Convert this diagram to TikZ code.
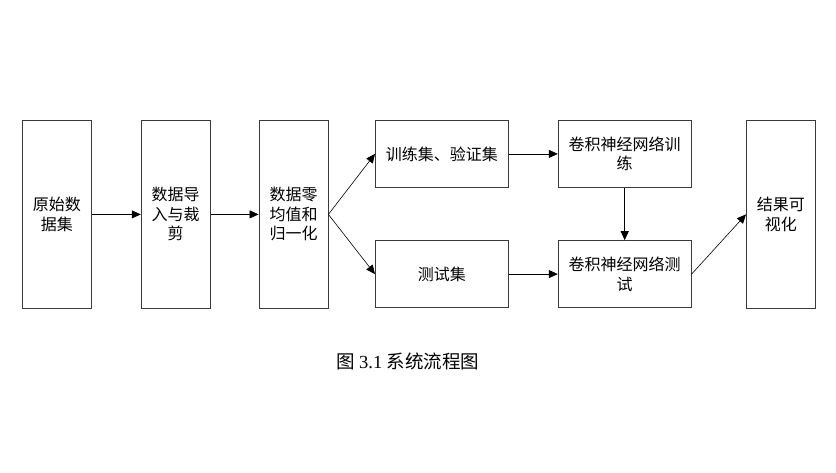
\documentclass[tikz,border=0pt]{standalone}
\usepackage{fontspec}
\setmainfont{Liberation Serif}
\newfontfamily\cjksans{Noto Sans CJK SC}
\newfontfamily\cjkcap{Noto Sans CJK SC}
\usetikzlibrary{arrows.meta, positioning}
\definecolor{flowline}{HTML}{3A3A3A}

\begin{document}
\begin{tikzpicture}[x=1pt, y=1pt,
    font=\cjksans\fontsize{16}{19.5}\selectfont,
    tallbox/.style={draw=flowline, thick, inner sep=0pt, minimum width=69pt, minimum height=188pt, align=center},
    widebox/.style={draw=flowline, thick, inner sep=0pt, minimum width=133pt, minimum height=67pt, align=center},
    flowarrow/.style={-{Triangle[length=9pt, width=8pt]}, black, semithick}]
      \useasboundingbox (0,0) rectangle (836,-472);
      % raw data
      \node[tallbox, anchor=north west] (raw) at (22,-120) {原始数\\据集};
      % import and crop
      \node[tallbox, right=49pt of raw] (crop) {数据导\\入与裁\\剪};
      % normalise
      \node[tallbox, right=48pt of crop] (norm) {数据零\\均值和\\归一化};
      % train / validation set
      \node[widebox, anchor=north west] (trainset) at (375,-120) {训练集、验证集};
      % test set
      \node[widebox, anchor=south west] (testset) at (375,-308) {测试集};
      % cnn training
      \node[widebox, right=49pt of trainset] (cnntrain) {卷积神经网络训\\练};
      % cnn testing
      \node[widebox, right=49pt of testset] (cnntest) {卷积神经网络测\\试};
      % results
      \node[tallbox, anchor=north west] (result) at (746,-120) {结果可\\视化};
      % caption
      \node[font=\fontsize{18.5}{22}\selectfont] (caption) at (408,-361) {\cjkcap 图 \rmfamily 3.1 \cjkcap 系统流程图};
      \draw[flowarrow] (raw) -- (crop);
      \draw[flowarrow] (crop) -- (norm);
      \draw[flowarrow] (norm.east) -- (trainset.west);
      \draw[flowarrow] (norm.east) -- (testset.west);
      \draw[flowarrow] (trainset) -- (cnntrain);
      \draw[flowarrow] (testset) -- (cnntest);
      \draw[flowarrow] (cnntrain) -- (cnntest);
      \draw[flowarrow] (cnntest.east) -- (result.west);
    \end{tikzpicture}
\end{document}
